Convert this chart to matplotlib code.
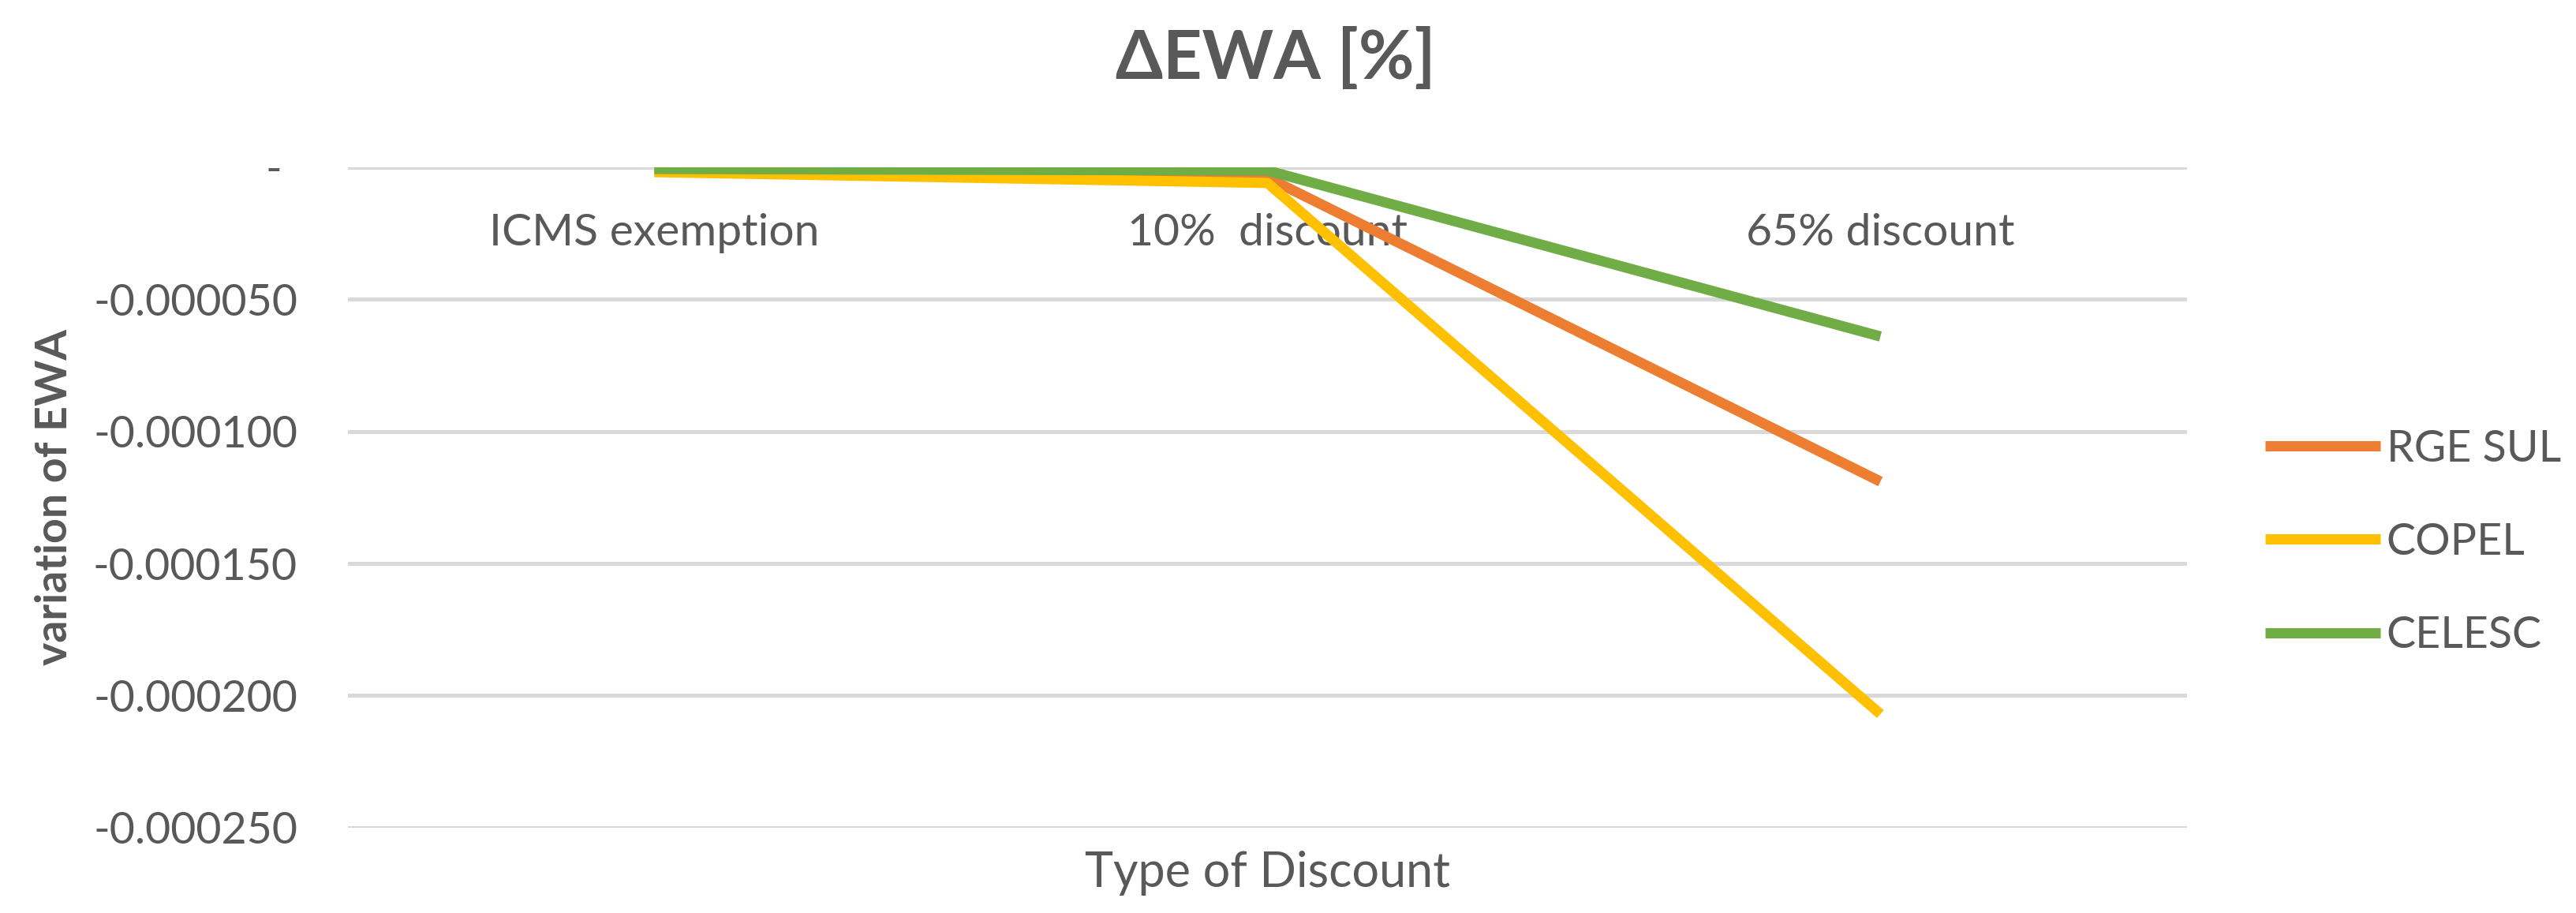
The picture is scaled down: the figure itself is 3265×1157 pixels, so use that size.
# -*- coding: utf-8 -*-
# grafico de linhas: variacao do EWA por tipo de desconto

import matplotlib
matplotlib.use("Agg")
import matplotlib.pyplot as plt
from matplotlib.transforms import ScaledTranslation

# dados
categories = ["ICMS exemption", "10%  discount", "65% discount"]
rge_sul = [-0.0000010, -0.0000040, -0.0001190]
copel = [-0.0000019, -0.0000060, -0.0002070]
celesc = [-0.0000007, -0.0000013, -0.0000641]
series_names = ["RGE SUL", "COPEL", "CELESC"]
yticks = [-0.00025, -0.0002, -0.00015, -0.0001, -0.00005, 0.0]

colors = ["#ED7D31", "#FFC000", "#70AD47"]
txt = "#595959"
fam = ["Lato", "DejaVu Sans"]


def fmt(v):
    # formato contabil do Excel: zero vira "-"
    if abs(v) < 1e-12:
        return "-"
    return "%.6f" % v


def main():
    dpi = 200
    fig = plt.figure(figsize=(3266 / dpi, 1157 / dpi), dpi=dpi)
    ax = fig.add_axes([0.1350, 0.0934, 0.7137, 0.7236])

    x = list(range(len(categories)))
    lw = 4.7
    for vals, name, c in zip([rge_sul, copel, celesc], series_names, colors):
        ax.plot(x, vals, color=c, lw=lw, label=name,
                solid_capstyle="butt", solid_joinstyle="round")

    ax.set_xlim(-0.5, len(categories) - 0.5)
    ax.set_ylim(yticks[0], yticks[-1])

    # grade horizontal
    ax.set_yticks(yticks)
    ax.set_yticklabels([fmt(v) for v in yticks])
    ax.yaxis.grid(True, color="#D9D9D9", lw=1.8)
    ax.set_axisbelow(True)
    for s in ax.spines.values():
        s.set_visible(False)

    # eixo de categorias cruza no zero (como no Excel)
    ax.spines["bottom"].set_position(("data", 0))
    ax.set_xticks(x)
    ax.set_xticklabels(categories)
    ax.tick_params(axis="x", length=0, pad=21, labelsize=20.5, labelcolor=txt)
    ax.tick_params(axis="y", length=0, pad=23, labelsize=20, labelcolor=txt)
    for lbl in ax.get_xticklabels() + ax.get_yticklabels():
        lbl.set_family(fam)
    # o "-" do zero fica um pouco a esquerda
    zl = ax.get_yticklabels()[-1]
    zl.set_transform(zl.get_transform() + ScaledTranslation(-20 / dpi, 0, fig.dpi_scale_trans))

    ax.set_xlabel("Type of Discount", fontsize=22, color=txt, family=fam)
    ax.xaxis.set_label_coords(0.5, -0.035)
    ax.set_ylabel("variation of EWA", fontsize=20, color=txt,
                  fontweight="bold", family=fam)
    ax.yaxis.set_label_coords(-0.149, 0.5)

    fig.text(0.495, 0.935, "\u0394EWA [%]", ha="center", va="center",
             fontsize=31, fontweight="bold", color=txt, family=fam)

    leg = fig.legend(loc="center left", bbox_to_anchor=(0.879, 0.406),
                     frameon=False, fontsize=20, handlelength=2.64,
                     handletextpad=0.13, labelspacing=1.21,
                     borderpad=0, borderaxespad=0)
    for t in leg.get_texts():
        t.set_color(txt)
        t.set_family(fam)

    fig.savefig("out.png", dpi=dpi, facecolor="white")


if __name__ == "__main__":
    main()
